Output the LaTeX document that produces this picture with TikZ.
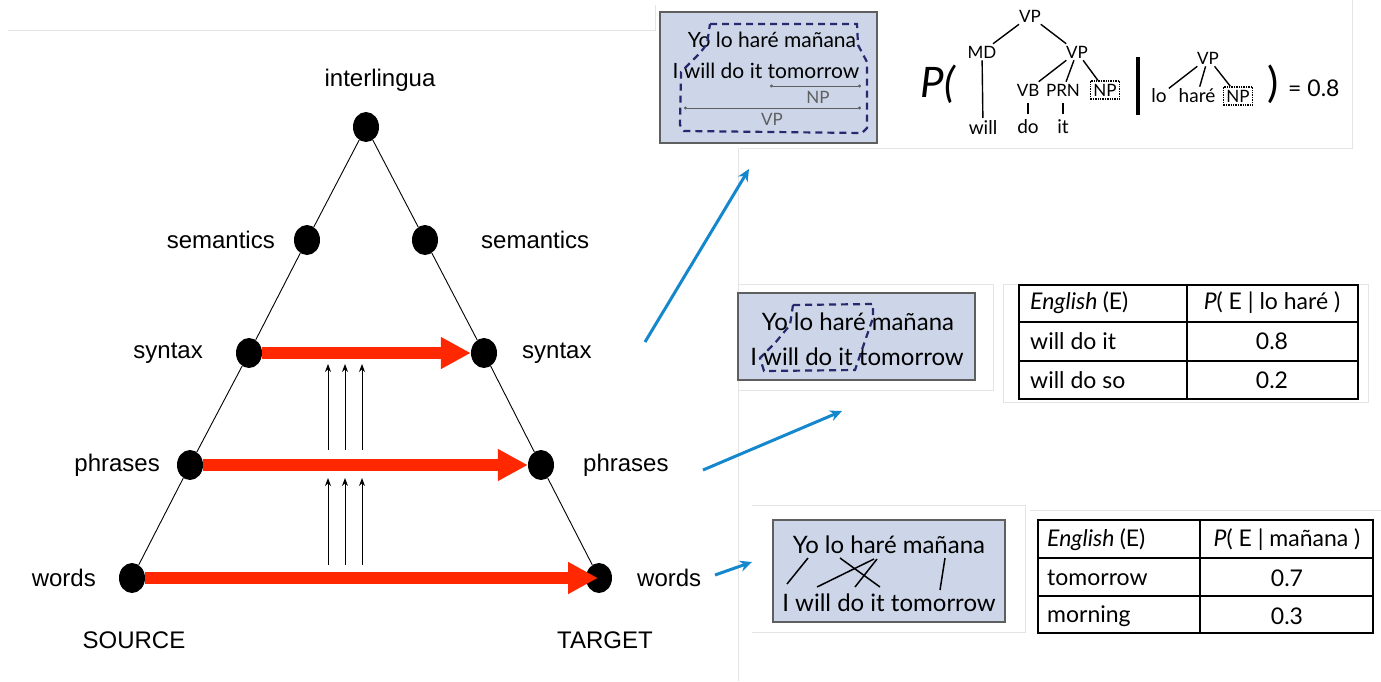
\documentclass[tikz,border=0pt]{standalone}
\usepackage{fontspec}
\setmainfont{Liberation Sans}
\newfontfamily\gill{Lato}
\usetikzlibrary{arrows.meta,shapes.geometric}
\definecolor{slideblue}{RGB}{204,214,232}
\definecolor{boxgray}{RGB}{95,95,95}
\definecolor{blobnavy}{RGB}{40,40,110}
\definecolor{transred}{RGB}{255,40,0}
\definecolor{linkblue}{RGB}{20,135,205}
\definecolor{faint}{RGB}{228,228,228}

\begin{document}
\begin{tikzpicture}[x=1pt, y=-1pt,
  dot/.style={ellipse, fill=black, minimum width=26pt, minimum height=30pt, inner sep=0pt},
  lvl/.style={font=\fontsize{24}{28}\selectfont, inner sep=0pt},
  transfer/.style={transred, line width=12pt, -{Triangle[length=30pt, width=30pt]}},
  climb/.style={line width=1pt, -{Stealth[length=8pt, width=6pt]}},
  link/.style={linkblue, line width=3pt, -{Stealth[length=12pt, width=11pt]}},
  panel/.style={draw=boxgray, fill=slideblue, line width=1.2pt, inner sep=0pt},
  sent/.style={font=\gill\fontsize{24}{28}\selectfont, inner sep=0pt},
  blob/.style={blobnavy, line width=2.2pt, dash pattern=on 7pt off 5pt},
  tree/.style={font=\gill\fontsize{17}{19}\selectfont, inner sep=2pt},
  leaf/.style={font=\gill\fontsize{19}{21}\selectfont, inner sep=2pt},
  npbox/.style={draw, densely dotted, line width=1.4pt, inner sep=3pt},
  cell/.style={font=\gill\fontsize{23}{26}\selectfont, inner sep=0pt},
  faintline/.style={faint, line width=0.8pt}
]
\useasboundingbox (0,0) rectangle (1381,681);

% screenshot frames
\draw[faintline] (8,30) -- (655,30) -- (655,5);
\draw[faintline] (740,148) -- (1352,148) -- (1352,0);
\draw[faintline] (738,148) -- (738,681);
\draw[faintline] (738,284) -- (993,284) -- (993,390) -- (738,390);
\draw[faintline] (1003,284) rectangle (1368,402);
\draw[faintline] (752,505) -- (1025,505) -- (1025,632) -- (752,632);
\draw[faintline] (1030,510) -- (1381,510);

% Triangle levels
\node[dot] (top) at (366,127) {};
\node[dot] (semL) at (307,240) {};
\node[dot] (semR) at (425,240) {};
\node[dot] (synL) at (249,353) {};
\node[dot] (synR) at (484,353) {};
\node[dot] (phrL) at (190,465) {};
\node[dot] (phrR) at (541,465) {};
\node[dot] (wrdL) at (132,578) {};
\node[dot] (wrdR) at (599,578) {};

\draw[line width=0.9pt] (top) -- (semL) -- (synL) -- (phrL) -- (wrdL);
\draw[line width=0.9pt] (top) -- (semR) -- (synR) -- (phrR) -- (wrdR);

\node[lvl] (interlingua) at (380,80) {interlingua};
\node[lvl, anchor=east] (semLtxt) at (275,240) {semantics};
\node[lvl, anchor=west] (semRtxt) at (481,240) {semantics};
\node[lvl, anchor=east] (synLtxt) at (203,353) {syntax};
\node[lvl, anchor=west] (synRtxt) at (522,353) {syntax};
\node[lvl, anchor=east] (phrLtxt) at (160,465) {phrases};
\node[lvl, anchor=west] (phrRtxt) at (583,465) {phrases};
\node[lvl, anchor=east] (wrdLtxt) at (96,578) {words};
\node[lvl, anchor=west] (wrdRtxt) at (637,578) {words};
\node[lvl] (source) at (134,640) {SOURCE};
\node[lvl] (target) at (605,640) {TARGET};

% Transfer arrows
\draw[transfer] (synL.east) -- (synR.west);
\draw[transfer] (phrL.east) -- (phrR.west);
\draw[transfer] (wrdL.east) -- ([xshift=-1pt]wrdR.center);

% Upward arrows
\foreach \x [count=\i] in {328,345,362} {
  \coordinate (lowA\i) at (\x,565);
  \coordinate (lowB\i) at (\x,478);
  \coordinate (upA\i) at (\x,450);
  \coordinate (upB\i) at (\x,364);
  \draw[climb] (lowA\i) -- (lowB\i);
  \draw[climb] (upA\i) -- (upB\i);
}

% Links to the examples
\coordinate (fromSyn) at (645,342);
\coordinate (toSyn) at (749,169);
\coordinate (fromPhr) at (703,470);
\coordinate (toPhr) at (842,411);
\coordinate (fromWrd) at (715,575);
\coordinate (toWrd) at (752,562);
\draw[link] (fromSyn) -- (toSyn);
\draw[link] (fromPhr) -- (toPhr);
\draw[link] (fromWrd) -- (toWrd);

% Syntax example
\node[panel, minimum width=217pt, minimum height=131pt] (synBox) at (768.5,77.5) {};
\node[sent, font=\gill\fontsize{21}{24}\selectfont] (synEs) at (772,40) {Yo lo haré mañana};
\node[sent, font=\gill\fontsize{21}{24}\selectfont] (synEn) at (766,71) {I will do it tomorrow};
\draw[boxgray, line width=0.8pt, {Circle[length=3pt]}-{Circle[length=3pt]}] (770,86) -- (861,86);
\node[tree, text=boxgray] (npSpan) at (818,97) {NP};
\draw[boxgray, line width=0.8pt, {Circle[length=3pt]}-{Circle[length=3pt]}] (684,108) -- (861,108);
\node[tree, text=boxgray] (vpSpan) at (772,119) {VP};
\draw[blob] (710,24) -- (857,24) -- (858,45) -- (867,62) -- (867,128) -- (862,133)
  -- (684,131) -- (680,125) -- (681,72) -- (700,53) -- (707,44) -- cycle;

% Rule probability
\node[font=\gill\fontsize{42}{46}\selectfont, inner sep=0pt] (pOpen) at (938,84) {\itshape P(};
\node[tree] (vpA) at (1030,16) {VP};
\node[tree] (md) at (982,52) {MD};
\node[tree] (vpB) at (1077,52) {VP};
\node[tree] (vb) at (1028,90) {VB};
\node[tree] (prn) at (1063,90) {PRN};
\node[tree, npbox] (npA) at (1105,90) {NP};
\node[leaf] (will) at (983,127) {will};
\node[leaf] (do) at (1028,127) {do};
\node[leaf] (it) at (1063,127) {it};
\draw[line width=1.4pt] (vpA) -- (md);
\draw[line width=1.4pt] (vpA) -- (vpB);
\draw[line width=1.4pt] (vpB) -- (vb);
\draw[line width=1.4pt] (vpB) -- (prn);
\draw[line width=1.4pt] (vpB) -- (npA);
\draw[line width=1.4pt] (md) -- (will);
\draw[line width=1.4pt, shorten <=5pt, shorten >=4pt] (vb) -- (do);
\draw[line width=1.4pt, shorten <=5pt, shorten >=4pt] (prn) -- (it);
\draw[line width=4pt] (1138,57) -- (1138,115);
\node[tree] (vpC) at (1208,58) {VP};
\node[leaf] (lo) at (1159,96) {lo};
\node[leaf] (hare) at (1197,96) {haré};
\node[tree, npbox] (npB) at (1238,96) {NP};
\draw[line width=1.4pt] (vpC) -- (lo);
\draw[line width=1.4pt] (vpC) -- (hare);
\draw[line width=1.4pt] (vpC) -- (npB);
\node[font=\gill\fontsize{42}{46}\selectfont, inner sep=0pt] (pClose) at (1273,84) {)};
\node[font=\gill\fontsize{23}{26}\selectfont, inner sep=0pt, anchor=west] (pVal) at (1288,88) {= 0.8};

% Phrase example
\node[panel, minimum width=237pt, minimum height=87pt] (phrBox) at (856.5,336.5) {};
\node[sent] (phrEs) at (858,322) {Yo lo haré mañana};
\node[sent] (phrEn) at (857,357) {I will do it tomorrow};
\draw[blob] (793,305) -- (873,304) -- (873,318) -- (866,338) -- (855,370) -- (764,371)
  -- (760,358) -- (775,343) -- (790,325) -- cycle;

\draw[line width=2.5pt] (1019,285) rectangle (1358,399);
\draw[line width=1.3pt] (1019,322) -- (1358,322);
\draw[line width=1.3pt] (1019,361) -- (1358,361);
\draw[line width=1.3pt] (1187,285) -- (1187,399);
\node[cell, anchor=west] (phrHeadE) at (1030,303) {\itshape English \upshape(E)};
\node[cell] (phrHeadP) at (1272,303) {\itshape P\upshape( E | lo haré )};
\node[cell, anchor=west] (phrRowA) at (1030,341) {will do it};
\node[cell] (phrValA) at (1272,341) {0.8};
\node[cell, anchor=west] (phrRowB) at (1030,380) {will do so};
\node[cell] (phrValB) at (1272,380) {0.2};

% Word example
\node[panel, minimum width=232pt, minimum height=102pt] (wrdBox) at (889,571) {};
\node[sent] (wrdEs) at (889,545) {Yo lo haré mañana};
\node[sent] (wrdEn) at (889,603) {I will do it tomorrow};
\draw[line width=1.5pt] (808,558) -- (787,584);
\draw[line width=1.5pt] (840,558) -- (880,587);
\draw[line width=1.5pt] (877,559) -- (855,587);
\draw[line width=1.5pt] (874,559) -- (817,587);
\draw[line width=1.5pt] (945,558) -- (940,590);

\draw[line width=2.5pt] (1038,520) rectangle (1373,633);
\draw[line width=1.3pt] (1038,558) -- (1373,558);
\draw[line width=1.3pt] (1038,596) -- (1373,596);
\draw[line width=1.3pt] (1200,520) -- (1200,633);
\node[cell, anchor=west] (wrdHeadE) at (1047,540) {\itshape English \upshape(E)};
\node[cell] (wrdHeadP) at (1287,540) {\itshape P\upshape( E | mañana )};
\node[cell, anchor=west] (wrdRowA) at (1047,578) {tomorrow};
\node[cell] (wrdValA) at (1287,578) {0.7};
\node[cell, anchor=west] (wrdRowB) at (1047,616) {morning};
\node[cell] (wrdValB) at (1287,616) {0.3};
\end{tikzpicture}
\end{document}
